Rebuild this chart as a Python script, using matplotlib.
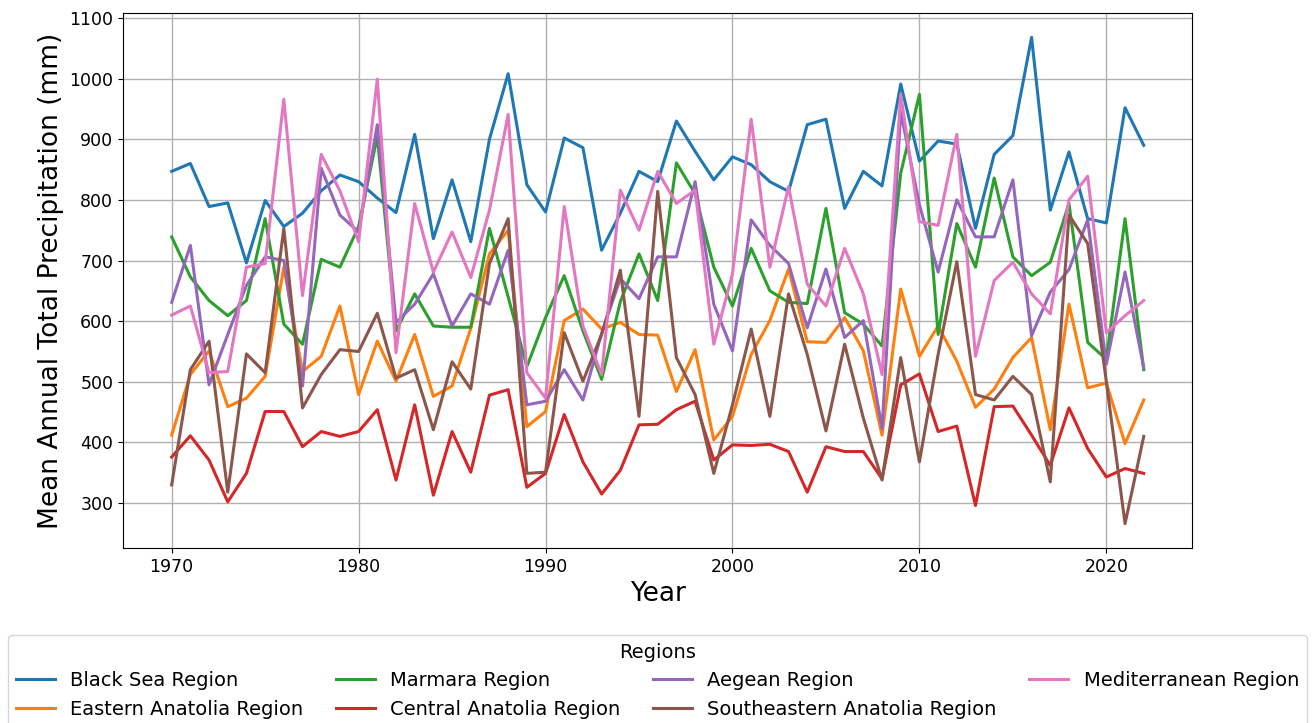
import numpy as np
import matplotlib
matplotlib.use("Agg")
import matplotlib.pyplot as plt

years = np.arange(1970, 2023)

black_sea = [847, 860, 789, 795, 696, 799, 756, 778, 815, 841,
             830, 803, 779, 908, 736, 833, 731, 900, 1008, 825,
             780, 902, 886, 717, 778, 847, 830, 930, 880, 833,
             871, 858, 830, 814, 924, 933, 786, 847, 823, 991,
             864, 897, 892, 753, 875, 906, 1068, 783, 879, 769,
             762, 952, 890]
eastern_anatolia = [412, 512, 551, 459, 473, 509, 689, 517, 542, 625,
                    479, 567, 501, 578, 476, 493, 588, 711, 750, 426,
                    451, 601, 620, 587, 598, 578, 577, 484, 553, 404,
                    443, 545, 601, 686, 566, 565, 606, 551, 412, 653,
                    542, 592, 534, 458, 488, 540, 573, 421, 628, 490,
                    498, 398, 470]
marmara = [739, 673, 634, 609, 634, 769, 595, 562, 702, 689,
           756, 905, 584, 645, 592, 590, 590, 753, 640, 525,
           606, 675, 584, 504, 632, 711, 634, 861, 810, 689,
           625, 720, 650, 631, 629, 786, 614, 595, 559, 844,
           974, 578, 761, 689, 836, 706, 675, 697, 794, 565,
           537, 769, 520]
central_anatolia = [376, 411, 371, 302, 349, 451, 451, 393, 418, 410,
                    418, 454, 338, 462, 313, 418, 351, 478, 487, 326,
                    349, 446, 368, 315, 354, 429, 430, 454, 468, 371,
                    396, 395, 397, 385, 318, 393, 385, 385, 340, 495,
                    513, 418, 427, 296, 459, 460, 412, 362, 457, 390,
                    343, 357, 349]
aegean = [631, 725, 495, 578, 659, 706, 700, 493, 852, 775,
          747, 924, 598, 628, 678, 592, 645, 628, 717, 462,
          468, 520, 470, 580, 670, 637, 706, 706, 830, 628,
          551, 767, 725, 695, 589, 686, 573, 601, 423, 945,
          792, 681, 800, 739, 739, 833, 576, 648, 685, 767,
          529, 681, 523]
southeastern_anatolia = [330, 520, 567, 318, 546, 515, 753, 457, 512, 553,
                         550, 613, 506, 520, 421, 533, 488, 695, 769, 349,
                         351, 581, 501, 578, 684, 443, 814, 540, 479, 349,
                         462, 587, 443, 645, 545, 419, 562, 440, 338, 540,
                         368, 545, 698, 479, 470, 509, 479, 335, 775, 728,
                         500, 266, 410]
mediterranean = [610, 625, 515, 517, 689, 695, 966, 642, 875, 815,
                 731, 999, 548, 794, 681, 747, 672, 783, 941, 515,
                 473, 789, 592, 512, 816, 750, 847, 794, 816, 562,
                 678, 933, 689, 822, 661, 625, 720, 645, 512, 974,
                 764, 758, 908, 542, 667, 697, 645, 612, 800, 839,
                 581, 609, 634]

# order chosen so the 4-column legend fills like the picture
regions = ["Black Sea Region", "Eastern Anatolia Region", "Marmara Region",
           "Central Anatolia Region", "Aegean Region", "Southeastern Anatolia Region",
           "Mediterranean Region"]
values = [black_sea, eastern_anatolia, marmara, central_anatolia,
          aegean, southeastern_anatolia, mediterranean]

fig = plt.figure(figsize=(13.12, 7.23), dpi=100)
ax = fig.add_axes([0.0938, 0.242, 0.815, 0.740])

for name, v in zip(regions, values):
    ax.plot(years, v, linewidth=2.2, label=name)

ax.set_xlabel("Year", fontsize=19)
ax.set_ylabel("Mean Annual Total Precipitation (mm)", fontsize=19)
ax.tick_params(labelsize=12.5)
ax.grid(True, color="#b0b0b0", linewidth=1)

# legend under the plot, stretched across the figure
fig.legend(title="Regions", loc="upper left", ncol=4, mode="expand",
           bbox_to_anchor=(0.006, 0.0, 0.99, 0.122), bbox_transform=fig.transFigure,
           fontsize=14, title_fontsize=14, borderaxespad=0.0)

fig.savefig("out.png", dpi=100)
